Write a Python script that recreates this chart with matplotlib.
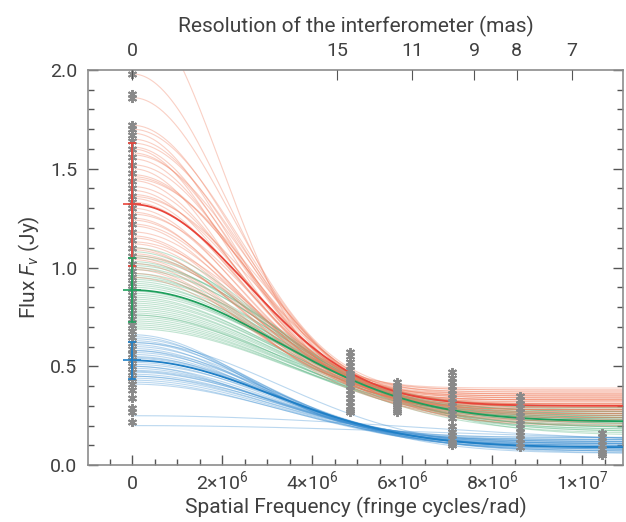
import matplotlib
matplotlib.use("Agg")
import matplotlib.pyplot as plt
import numpy as np

plt.rcParams['font.family'] = ['Roboto', 'DejaVu Sans']
plt.rcParams['font.weight'] = 'normal'
plt.rcParams['mathtext.fontset'] = 'custom'
plt.rcParams['mathtext.rm'] = 'Roboto'
plt.rcParams['mathtext.it'] = 'Roboto:italic'

# ---------------- data ----------------
# observed fluxes (gray asterisks): spatial frequency -> list of fluxes
obs_freq = [0.0, 4.83e6, 5.87e6, 7.10e6, 8.62e6, 10.44e6]
obs_flux_0 = [1.98, 1.88, 1.86, 1.72, 1.70, 1.67, 1.64, 1.60, 1.56, 1.52, 1.48, 1.44,
              1.40, 1.36, 1.33, 1.30, 1.26, 1.22, 1.18, 1.14, 1.10, 1.06, 1.02, 0.98,
              0.95, 0.92, 0.89, 0.86, 0.83, 0.80, 0.77, 0.74, 0.71, 0.68, 0.65, 0.62,
              0.59, 0.56, 0.53, 0.50, 0.47, 0.44, 0.41, 0.38, 0.34, 0.29, 0.27, 0.22]
obs_flux_1 = [0.57, 0.55, 0.52, 0.50, 0.48, 0.46, 0.45, 0.43, 0.42, 0.40, 0.38, 0.36,
              0.34, 0.32, 0.30, 0.28, 0.27]
obs_flux_2 = [0.42, 0.40, 0.39, 0.37, 0.36, 0.35, 0.34, 0.32, 0.31, 0.30, 0.28, 0.27]
obs_flux_3 = [0.47, 0.44, 0.42, 0.40, 0.38, 0.36, 0.34, 0.32, 0.30, 0.28, 0.26, 0.24,
              0.20, 0.17, 0.15, 0.13, 0.11, 0.10]
obs_flux_4 = [0.35, 0.33, 0.31, 0.29, 0.27, 0.25, 0.23, 0.21, 0.19, 0.17, 0.15, 0.13,
              0.11, 0.09]
obs_flux_5 = [0.16, 0.14, 0.12, 0.10, 0.08, 0.06, 0.05]
obs_fluxes = [obs_flux_0, obs_flux_1, obs_flux_2, obs_flux_3, obs_flux_4, obs_flux_5]

# total-flux estimates at zero spacing (value, error) for the three groups
total_red = (1.32, 0.31)
total_green = (0.886, 0.16)
total_blue = (0.53, 0.095)

# model ensembles: flux at zero spacing, unresolved plateau, Gaussian width (1e6 cycles/rad)
red_peak = [2.30, 1.98, 1.86, 1.72, 1.70, 1.68, 1.65, 1.63, 1.61, 1.58, 1.57, 1.55,
            1.52, 1.50, 1.47, 1.46, 1.44, 1.41, 1.39, 1.37, 1.35, 1.33, 1.30, 1.28,
            1.27, 1.24, 1.22, 1.21, 1.18, 1.16, 1.15, 1.12, 1.10, 1.09, 1.07, 1.05,
            1.04, 1.02, 1.00, 0.99, 0.97, 0.95, 1.45, 1.25, 1.13, 1.36, 1.60, 1.06]
red_plateau = [0.30, 0.33, 0.36, 0.34, 0.28, 0.37, 0.31, 0.26, 0.35, 0.30, 0.24, 0.33,
               0.28, 0.36, 0.31, 0.22, 0.34, 0.29, 0.38, 0.25, 0.32, 0.27, 0.35, 0.30,
               0.21, 0.33, 0.28, 0.36, 0.24, 0.31, 0.34, 0.27, 0.37, 0.29, 0.23, 0.32,
               0.35, 0.26, 0.30, 0.33, 0.28, 0.31, 0.20, 0.38, 0.22, 0.26, 0.39, 0.25]
red_width = [2.8, 3.0, 3.1, 3.2, 3.4, 3.0, 3.3, 3.5, 3.1, 3.3, 3.6, 3.2,
             3.4, 3.0, 3.5, 3.7, 3.2, 3.4, 3.1, 3.6, 3.3, 3.5, 3.2, 3.4,
             3.8, 3.3, 3.5, 3.2, 3.7, 3.4, 3.3, 3.6, 3.2, 3.5, 3.8, 3.4,
             3.3, 3.6, 3.5, 3.4, 3.7, 3.6, 3.9, 3.1, 4.0, 3.8, 2.9, 3.9]

green_peak = [1.10, 1.08, 1.06, 1.05, 1.03, 1.02, 1.00, 0.99, 0.97, 0.96, 0.95, 0.93,
              0.92, 0.91, 0.90, 0.88, 0.87, 0.86, 0.84, 0.83, 0.82, 0.81, 0.80, 0.79,
              0.78, 0.77, 0.76, 0.75, 0.74, 0.73, 0.72, 0.71, 0.70, 0.69, 0.94, 0.85,
              0.76, 1.01]
green_plateau = [0.24, 0.28, 0.20, 0.26, 0.30, 0.22, 0.27, 0.18, 0.25, 0.29, 0.21, 0.24,
                 0.27, 0.19, 0.23, 0.26, 0.22, 0.28, 0.17, 0.24, 0.21, 0.26, 0.19, 0.23,
                 0.25, 0.16, 0.22, 0.27, 0.20, 0.24, 0.18, 0.21, 0.23, 0.19, 0.15, 0.29,
                 0.25, 0.17]
green_width = [4.0, 3.8, 4.3, 4.1, 3.9, 4.4, 4.2, 4.6, 4.3, 4.0, 4.5, 4.4,
               4.2, 4.7, 4.5, 4.3, 4.6, 4.4, 4.8, 4.5, 4.7, 4.4, 4.8, 4.6,
               4.5, 4.9, 4.7, 4.5, 4.8, 4.6, 4.9, 4.8, 4.7, 5.0, 4.9, 4.2,
               4.4, 4.7]

blue_peak = [0.66, 0.65, 0.64, 0.63, 0.62, 0.61, 0.60, 0.59, 0.58, 0.57, 0.56, 0.55,
             0.545, 0.54, 0.53, 0.52, 0.51, 0.50, 0.49, 0.48, 0.475, 0.47, 0.46, 0.45,
             0.44, 0.43, 0.42, 0.41, 0.25, 0.20, 0.58, 0.50, 0.45, 0.62]
blue_plateau = [0.11, 0.13, 0.09, 0.12, 0.10, 0.14, 0.08, 0.11, 0.13, 0.09, 0.12, 0.10,
                0.07, 0.11, 0.09, 0.12, 0.08, 0.10, 0.13, 0.09, 0.11, 0.07, 0.10, 0.12,
                0.08, 0.09, 0.11, 0.07, 0.10, 0.12, 0.06, 0.14, 0.06, 0.08]
blue_width = [3.6, 3.5, 3.9, 3.7, 4.0, 3.6, 4.2, 3.9, 3.7, 4.3, 4.0, 4.1,
              4.5, 4.2, 4.4, 4.1, 4.6, 4.3, 4.0, 4.5, 4.3, 4.7, 4.4, 4.2,
              4.6, 4.5, 4.3, 4.8, 9.0, 9.0, 4.4, 3.8, 4.9, 4.6]

# best-fit (thick) models: peak, plateau, width
best_red = (1.32, 0.30, 3.6)
best_green = (0.886, 0.22, 4.55)
best_blue = (0.53, 0.09, 4.38)

# top axis: angular resolution (mas)
res_labels = ['0', '15', '11', '9', '8', '7']
res_mas = [np.inf, 15, 11, 9, 8, 7]
res_const = 68.35e6  # spatial frequency * resolution

xtick_vals = [0, 2e6, 4e6, 6e6, 8e6, 1e7]
xtick_labels = ['0', r'$2{\times}10^6$', r'$4{\times}10^6$', r'$6{\times}10^6$',
                r'$8{\times}10^6$', r'$1{\times}10^7$']

# ---------------- plot ----------------
fig = plt.figure(figsize=(6.26, 5.22), dpi=100)
ax = fig.add_axes([0.141, 0.109, 0.854, 0.757])
xmin, xmax = -0.98e6, 10.9e6
xx = np.linspace(0, xmax, 400)


def model(peak, plateau, width):
    return plateau + (peak - plateau) * np.exp(-(xx / (width * 1e6)) ** 2)


for p, c, w in zip(blue_peak, blue_plateau, blue_width):
    ax.plot(xx, model(p, c, w), color='#3c8fd2', lw=0.8, alpha=0.35, zorder=2)
for p, c, w in zip(green_peak, green_plateau, green_width):
    ax.plot(xx, model(p, c, w), color='#4fb27c', lw=0.8, alpha=0.35, zorder=2)
for p, c, w in zip(red_peak, red_plateau, red_width):
    ax.plot(xx, model(p, c, w), color='#f07a5a', lw=0.8, alpha=0.35, zorder=2)

ax.plot(xx, model(*best_blue), color='#1f7fc6', lw=1.3, zorder=3)
ax.plot(xx, model(*best_green), color='#1e9f5c', lw=1.3, zorder=3)
ax.plot(xx, model(*best_red), color='#e8443a', lw=1.3, zorder=3)

for f, ys in zip(obs_freq, obs_fluxes):
    ax.plot([f] * len(ys), ys, linestyle='none', marker=(6, 2, 0), ms=6.5, mew=1.4,
            color='#8a8a8a', zorder=4)

for (v, e), col in zip([total_red, total_green, total_blue],
                       ['#e8443a', '#1e9f5c', '#1f7fc6']):
    ax.errorbar([0], [v], yerr=[e], fmt='+', ms=13, mew=1.2, color=col,
                ecolor=col, elinewidth=1.2, capsize=3, capthick=1.2, zorder=5)

ax.set_xlim(xmin, xmax)
ax.set_ylim(0, 2.0)
ax.set_xticks(xtick_vals)
ax.set_xticklabels(xtick_labels)
ax.set_xticks(np.arange(-0.5e6, 10.9e6, 0.5e6), minor=True)
ax.set_yticks([0, 0.5, 1.0, 1.5, 2.0])
ax.set_yticklabels(['0.0', '0.5', '1.0', '1.5', '2.0'])
ax.set_yticks(np.arange(0, 2.01, 0.1), minor=True)

txt_col = '#404040'
spine_col = '#8c8c8c'
for s in ax.spines.values():
    s.set_color(spine_col)
    s.set_linewidth(1.2)
ax.tick_params(which='both', direction='in', color='#555555', labelcolor=txt_col,
               labelsize=14, right=True, top=False, width=1.0)
ax.tick_params(which='major', length=7)
ax.tick_params(which='minor', length=4)
ax.tick_params(axis='x', which='major', pad=17)
ax.tick_params(axis='y', which='major', pad=8)
for lab in ax.get_xticklabels():
    lab.set_verticalalignment('baseline')

ax.set_xlabel('Spatial Frequency (fringe cycles/rad)', fontsize=15, color=txt_col,
              labelpad=3)
ax.set_ylabel(r'Flux $F_\nu$ (Jy)', fontsize=15, color=txt_col, labelpad=6)

top = ax.twiny()
top.set_xlim(xmin, xmax)
top_pos = [0.0 if np.isinf(r) else res_const / r for r in res_mas]
top.set_xticks(top_pos)
top.set_xticklabels(res_labels)
top.tick_params(direction='in', length=7, color='#555555', labelcolor=txt_col,
                labelsize=14, pad=7)
for s in top.spines.values():
    s.set_visible(False)
top.set_xlabel('Resolution of the interferometer (mas)', fontsize=15, color=txt_col,
               labelpad=7)

fig.savefig('out.png', dpi=100)
